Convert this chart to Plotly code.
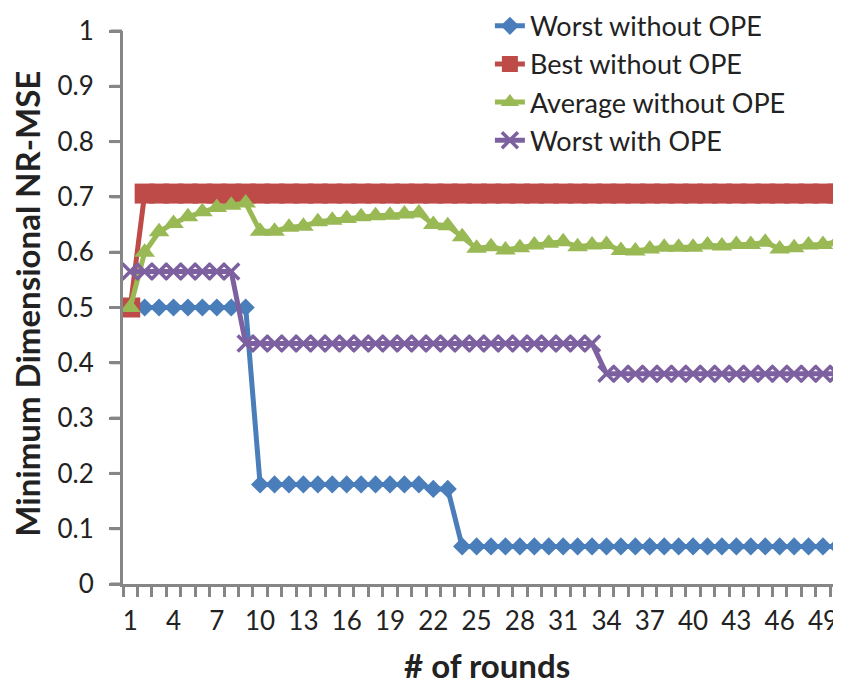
import plotly.graph_objects as go

rounds = list(range(1, 51))

worst_without_ope = [0.5] * 9 + [0.18] * 12 + [0.172, 0.172] + [0.068] * 27
best_without_ope = [0.5] + [0.706] * 49
average_without_ope = [
    0.5, 0.6, 0.637, 0.652, 0.664, 0.673, 0.681, 0.685, 0.689, 0.638,
    0.638, 0.645, 0.647, 0.655, 0.658, 0.661, 0.664, 0.666, 0.667, 0.669,
    0.671, 0.650, 0.648, 0.628, 0.607, 0.610, 0.604, 0.608, 0.613, 0.616,
    0.619, 0.610, 0.613, 0.614, 0.603, 0.602, 0.606, 0.609, 0.609, 0.609,
    0.613, 0.611, 0.614, 0.614, 0.618, 0.606, 0.608, 0.613, 0.614, 0.619,
]
worst_with_ope = [0.565] * 8 + [0.435] * 25 + [0.38] * 17

x_tick_vals = list(range(1, 51, 3))
x_tick_text = [str(v) for v in x_tick_vals]
y_tick_vals = [0, 0.1, 0.2, 0.3, 0.4, 0.5, 0.6, 0.7, 0.8, 0.9, 1]
y_tick_text = ["0", "0.1", "0.2", "0.3", "0.4", "0.5", "0.6", "0.7", "0.8", "0.9", "1"]

FONT = "Lato"
AXIS = "#868686"
TXT = "#222222"

series = [
    ("Worst without OPE", worst_without_ope, "#4A7EBB", dict(symbol="diamond", size=14)),
    ("Best without OPE", best_without_ope, "#BE4B48", dict(symbol="square", size=20)),
    ("Average without OPE", average_without_ope, "#98B954", dict(symbol="triangle-up", size=18)),
    ("Worst with OPE", worst_with_ope, "#7D60A0", dict(symbol="x-thin", size=16)),
]

fig = go.Figure()
for name, vals, color, mk in series:
    marker = dict(color=color, **mk)
    if mk["symbol"] == "x-thin":
        marker["line"] = dict(color=color, width=3.5)
    fig.add_trace(go.Scatter(
        x=rounds, y=vals, name=name, mode="lines+markers",
        line=dict(color=color, width=5),
        marker=marker, cliponaxis=False,
    ))

# y-axis tick marks (outside, left of the axis line), at the y tick values
y_tick_marks = [
    dict(type="line", xref="paper", yref="paper", xsizemode="pixel", xanchor=0,
         x0=-12.5, x1=-1, y0=v, y1=v, line=dict(color=AXIS, width=3), layer="above")
    for v in y_tick_vals
]

fig.update_layout(
    template="none",
    width=833, height=679,
    paper_bgcolor="white", plot_bgcolor="white",
    margin=dict(l=115, r=0, t=23, b=103, autoexpand=False),
    font=dict(family=FONT, size=26, color=TXT),
    showlegend=True,
    legend=dict(
        x=0.511, y=1.0528, xanchor="left", yanchor="top",
        bgcolor="rgba(0,0,0,0)", font=dict(size=27, family=FONT, color=TXT),
        tracegroupgap=0, itemsizing="trace", borderwidth=0,
    ),
    xaxis=dict(
        range=[0.5, 50.25], showgrid=False, zeroline=False, automargin=False,
        showline=True, linecolor=AXIS, linewidth=3,
        tickmode="array", tickvals=x_tick_vals, ticktext=x_tick_text,
        ticks="outside", ticklen=12, tickcolor="rgba(0,0,0,0)", tickwidth=3,
        minor=dict(ticks="outside", tick0=0.5, dtick=1, ticklen=10,
                   tickwidth=3, tickcolor=AXIS, showgrid=False),
        tickfont=dict(size=26, family=FONT, color=TXT),
    ),
    yaxis=dict(
        range=[0, 1], showgrid=False, zeroline=False, automargin=False,
        showline=True, linecolor=AXIS, linewidth=3,
        tickmode="array", tickvals=y_tick_vals, ticktext=y_tick_text,
        ticks="outside", ticklen=11, tickwidth=3, tickcolor=AXIS,
        ticklabelstandoff=10,
        tickfont=dict(size=26, family=FONT, color=TXT),
    ),
    shapes=y_tick_marks,
    annotations=[
        dict(text="<b>Minimum Dimensional NR-MSE</b>", textangle=-90,
             xref="paper", yref="paper", x=-0.1337, y=0.507,
             xanchor="center", yanchor="middle", showarrow=False,
             font=dict(size=33, family=FONT, color=TXT)),
        dict(text="<b># of rounds</b>",
             xref="paper", yref="paper", x=0.507, y=-0.1465,
             xanchor="center", yanchor="middle", showarrow=False,
             font=dict(size=33, family=FONT, color=TXT)),
    ],
)

fig.write_html("out.html")
